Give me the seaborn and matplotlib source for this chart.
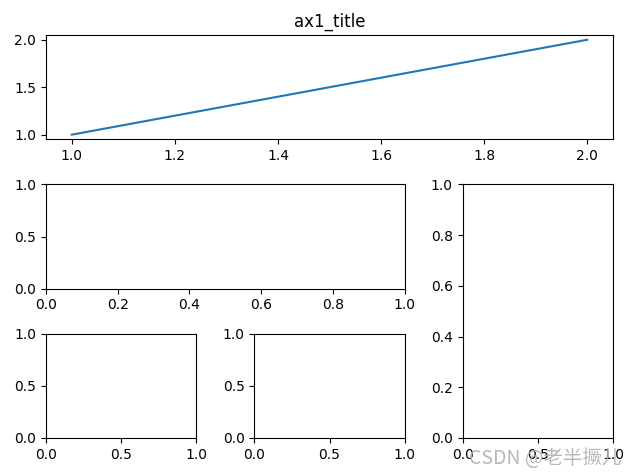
import matplotlib
matplotlib.use("Agg")
import matplotlib.pyplot as plt
import seaborn as sns
import pandas as pd

x_vals = [1, 2]
y_vals = [1, 2]
title_text = "ax1_title"
watermark = "CSDN @老半撅儿"

plt.rcParams.update(plt.rcParamsDefault)
plt.rcParams['font.family'] = ['DejaVu Sans', 'Noto Sans CJK SC']

fig = plt.figure(figsize=(6.35, 4.75), dpi=100)
ax1 = plt.subplot2grid((3, 3), (0, 0), colspan=3)
ax2 = plt.subplot2grid((3, 3), (1, 0), colspan=2)
ax3 = plt.subplot2grid((3, 3), (1, 2), rowspan=2)
ax4 = plt.subplot2grid((3, 3), (2, 0))
ax5 = plt.subplot2grid((3, 3), (2, 1))

df = pd.DataFrame({"x": x_vals, "y": y_vals})
sns.lineplot(data=df, x="x", y="y", ax=ax1, color="#1f77b4")
ax1.set_xlabel("")
ax1.set_ylabel("")
ax1.set_title(title_text)

fig.subplots_adjust(left=0.0724, right=0.9654, top=0.9263, bottom=0.0779,
                    wspace=0.385, hspace=0.43)
fig.text(0.978, 0.012, watermark, ha="right", va="bottom", fontsize=14,
         color="#b0b0b0", alpha=0.9, family=['Noto Sans CJK SC', 'DejaVu Sans'])
fig.savefig("out.png", dpi=100)
